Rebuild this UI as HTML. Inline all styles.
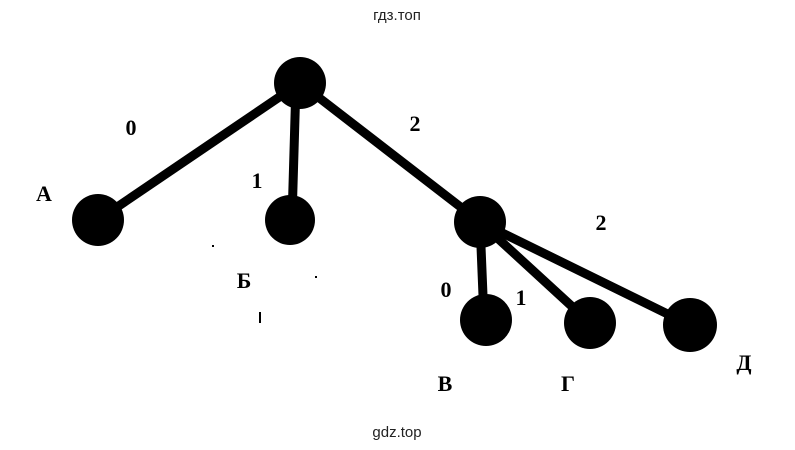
<!DOCTYPE html>
<html><head><meta charset="utf-8"><style>
html,body{margin:0;padding:0;background:#fff;}
svg{display:block;}
.l{font-family:"Liberation Serif",serif;font-weight:bold;font-size:22px;fill:#000;}
.w{font-family:"Liberation Sans",sans-serif;font-size:15px;fill:#222;}
</style></head><body>
<svg width="795" height="450" viewBox="0 0 795 450">
<text class="w" x="397" y="20" text-anchor="middle">гдз.топ</text>
<text class="w" x="397" y="437" text-anchor="middle">gdz.top</text>
<g stroke="#000" stroke-width="9" stroke-linecap="round">
<line x1="300" y1="83" x2="98" y2="220"/>
<line x1="296" y1="83" x2="292" y2="220"/>
<line x1="300" y1="83" x2="480" y2="222"/>
<line x1="480" y1="222" x2="484" y2="320"/>
<line x1="480" y1="222" x2="590" y2="323"/>
<line x1="480" y1="222" x2="690" y2="325"/>
</g>
<g fill="#000">
<circle cx="300" cy="83" r="26"/>
<circle cx="98" cy="220" r="26"/>
<circle cx="290" cy="220" r="25"/>
<circle cx="480" cy="222" r="26"/>
<circle cx="486" cy="320" r="26"/>
<circle cx="590" cy="323" r="26"/>
<circle cx="690" cy="325" r="27"/>
<rect x="212" y="245" width="2" height="2"/>
<rect x="315" y="276" width="2" height="2"/>
<rect x="259" y="312" width="2" height="11"/>
</g>
<text class="l" x="131" y="135" text-anchor="middle">0</text>
<text class="l" x="257" y="188" text-anchor="middle">1</text>
<text class="l" x="415" y="131" text-anchor="middle">2</text>
<text class="l" x="44" y="201" text-anchor="middle">А</text>
<text class="l" x="244" y="288" text-anchor="middle">Б</text>
<text class="l" x="601" y="230" text-anchor="middle">2</text>
<text class="l" x="446" y="297" text-anchor="middle">0</text>
<text class="l" x="521" y="305" text-anchor="middle">1</text>
<text class="l" x="445" y="391" text-anchor="middle">В</text>
<text class="l" x="568" y="391" text-anchor="middle">Г</text>
<text class="l" x="744" y="370" text-anchor="middle">Д</text>
</svg>
</body></html>
